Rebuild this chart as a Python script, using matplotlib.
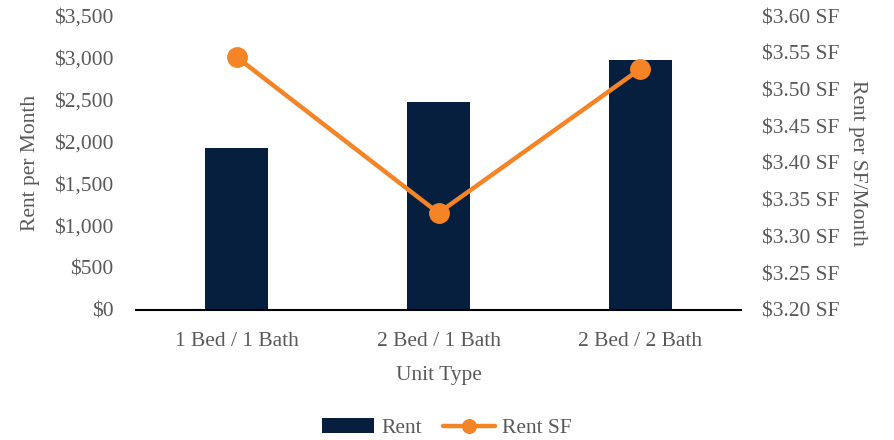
import matplotlib.pyplot as plt
from matplotlib.ticker import FuncFormatter

# data
unit_types = ['1 Bed / 1 Bath', '2 Bed / 1 Bath', '2 Bed / 2 Bath']
rent = [1925, 2475, 2975]
rent_sf = [3.544, 3.332, 3.528]

plt.rcParams['font.family'] = ['Liberation Serif', 'DejaVu Serif']
text_col = '#595959'
navy = '#061f3f'
orange = '#f58426'
fs = 15.5

fig = plt.figure(figsize=(8.94, 4.40), dpi=100)
ax = fig.add_axes([0.152, 0.2955, 0.677, 0.6681])
ax2 = ax.twinx()

x = range(len(unit_types))
bars = ax.bar(x, rent, width=0.31, color=navy, label='Rent', zorder=2)
line, = ax2.plot(x, rent_sf, color=orange, lw=3.2, marker='o', ms=14,
                 label='Rent SF', solid_capstyle='round', zorder=3)

ax.set_xlim(-0.5, 2.5)
ax.set_ylim(0, 3500)
ax.set_yticks(range(0, 3501, 500))
ax.yaxis.set_major_formatter(FuncFormatter(lambda v, p: f'${v:,.0f}'))
ax2.set_ylim(3.20, 3.60)
ax2.set_yticks([3.20, 3.25, 3.30, 3.35, 3.40, 3.45, 3.50, 3.55, 3.60])
ax2.yaxis.set_major_formatter(FuncFormatter(lambda v, p: f'${v:.2f} SF'))
ax.set_xticks(list(x))
ax.set_xticklabels(unit_types)

for a in (ax, ax2):
    for s in a.spines.values():
        s.set_visible(False)
    a.tick_params(length=0, labelsize=fs, labelcolor=text_col)
ax.spines['bottom'].set_visible(True)
ax.spines['bottom'].set_linewidth(1.5)
ax.spines['bottom'].set_color('#000000')
ax.tick_params(axis='y', pad=16)
ax.tick_params(axis='x', pad=16)
ax2.tick_params(axis='y', pad=15)
ax.set_zorder(ax2.get_zorder() - 1)
ax2.patch.set_visible(False)

ax.set_ylabel('Rent per Month', fontsize=fs, color=text_col, labelpad=10)
ax2.set_ylabel('Rent per SF/Month', fontsize=fs, color=text_col, rotation=270,
               labelpad=20)
ax.set_xlabel('Unit Type', fontsize=fs, color=text_col, labelpad=11)

fig.legend([bars, line], ['Rent', 'Rent SF'], loc='center',
           bbox_to_anchor=(0.5, 0.027), ncol=2, frameon=False, fontsize=fs,
           labelcolor=text_col, handlelength=2.4, handletextpad=0.35,
           columnspacing=1.0, markerscale=0.7)

fig.savefig('out.png', dpi=100)
